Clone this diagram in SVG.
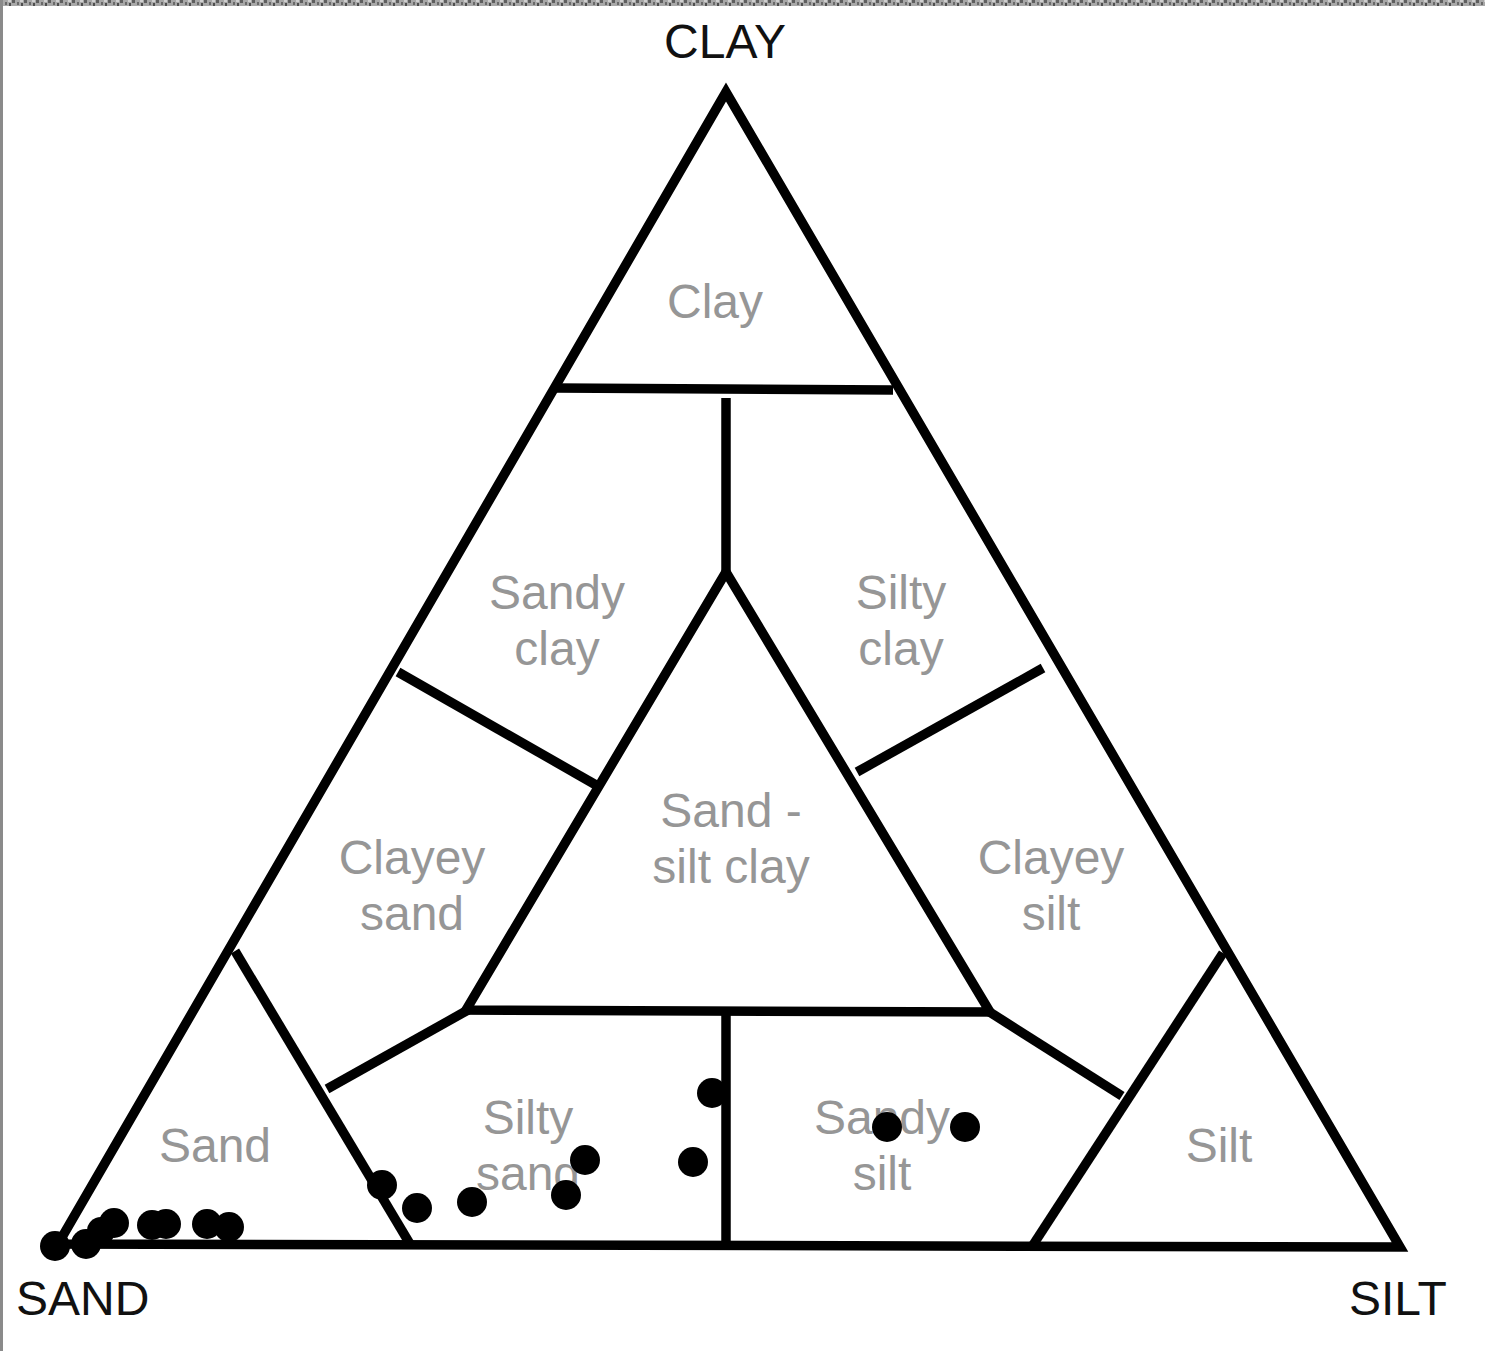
<svg xmlns="http://www.w3.org/2000/svg" width="1485" height="1351" viewBox="0 0 1485 1351">
  <defs>
    <style>
      .ln { stroke: #000; stroke-width: 9.5; fill: none; stroke-linecap: butt; stroke-linejoin: miter; }
      .lbl { font-family: "Liberation Sans", Arial, sans-serif; font-size: 48px; fill: #969696; text-anchor: middle; }
      .axis { font-family: "Liberation Sans", Arial, sans-serif; font-size: 48px; fill: #111; }
      .dot { fill: #000; }
    </style>
    <pattern id="noise" x="0" y="0" width="12" height="6" patternUnits="userSpaceOnUse">
      <rect width="12" height="6" fill="#a8a8a8"/>
      <rect x="0" y="0" width="3" height="3" fill="#5e5e5e"/>
      <rect x="5" y="2" width="2" height="3" fill="#6a6a6a"/>
      <rect x="8" y="0" width="3" height="2" fill="#d0d0d0"/>
      <rect x="9" y="3" width="2" height="3" fill="#4e4e4e"/>
    </pattern>
  </defs>
  <rect x="0" y="0" width="1485" height="1351" fill="#fff"/>
  <rect x="0" y="0" width="1485" height="6" fill="url(#noise)"/>
  <rect x="0" y="0" width="3" height="1351" fill="#8a8a8a"/>

  <g id="connectors">
    <polygon class="ln" points="726,92 58,1244 1400,1247"/>
    <line class="ln" x1="556" y1="388" x2="893" y2="390"/>
    <line class="ln" x1="726" y1="398" x2="726" y2="572"/>
    <polygon class="ln" points="726,572 466,1010 990,1012"/>
    <line class="ln" x1="398" y1="672" x2="596" y2="785"/>
    <line class="ln" x1="857" y1="772" x2="1043" y2="668"/>
    <line class="ln" x1="235" y1="951" x2="410" y2="1244"/>
    <line class="ln" x1="327" y1="1089" x2="468" y2="1010"/>
    <line class="ln" x1="988" y1="1011" x2="1122" y2="1096"/>
    <line class="ln" x1="1223" y1="953" x2="1033" y2="1245"/>
    <line class="ln" x1="726" y1="1014" x2="726" y2="1244"/>
  </g>

  <g id="axis-labels">
    <text id="clay-axis" class="axis" x="725" y="58" text-anchor="middle">CLAY</text>
    <text id="sand-axis" class="axis" x="16" y="1315">SAND</text>
    <text id="silt-axis" class="axis" x="1349" y="1315">SILT</text>
  </g>

  <g id="node-clay"><text class="lbl" x="715" y="318">Clay</text></g>
  <g id="node-sandy-clay"><text class="lbl" x="557" y="609">Sandy</text><text class="lbl" x="557" y="665">clay</text></g>
  <g id="node-silty-clay"><text class="lbl" x="901" y="609">Silty</text><text class="lbl" x="901" y="665">clay</text></g>
  <g id="node-sand-silt-clay"><text class="lbl" x="731" y="827">Sand -</text><text class="lbl" x="731" y="883">silt clay</text></g>
  <g id="node-clayey-sand"><text class="lbl" x="412" y="874">Clayey</text><text class="lbl" x="412" y="930">sand</text></g>
  <g id="node-clayey-silt"><text class="lbl" x="1051" y="874">Clayey</text><text class="lbl" x="1051" y="930">silt</text></g>
  <g id="node-sand"><text class="lbl" x="215" y="1162">Sand</text></g>
  <g id="node-silty-sand"><text class="lbl" x="528" y="1134">Silty</text><text class="lbl" x="528" y="1190">sand</text></g>
  <g id="node-sandy-silt"><text class="lbl" x="882" y="1134">Sandy</text><text class="lbl" x="882" y="1190">silt</text></g>
  <g id="node-silt"><text class="lbl" x="1219" y="1162">Silt</text></g>

  <g id="samples">
    <circle class="dot" cx="55" cy="1246" r="15"/>
    <circle class="dot" cx="86" cy="1244" r="15"/>
    <circle class="dot" cx="101" cy="1231" r="14"/>
    <circle class="dot" cx="114" cy="1223" r="15"/>
    <circle class="dot" cx="152" cy="1225" r="15"/>
    <circle class="dot" cx="166" cy="1224" r="15"/>
    <circle class="dot" cx="207" cy="1224" r="15"/>
    <circle class="dot" cx="229" cy="1227" r="15"/>
    <circle class="dot" cx="382" cy="1185" r="15"/>
    <circle class="dot" cx="417" cy="1208" r="15"/>
    <circle class="dot" cx="472" cy="1202" r="15"/>
    <circle class="dot" cx="585" cy="1160" r="15"/>
    <circle class="dot" cx="566" cy="1195" r="15"/>
    <circle class="dot" cx="693" cy="1162" r="15"/>
    <circle class="dot" cx="712" cy="1093" r="15"/>
    <circle class="dot" cx="887" cy="1127" r="15"/>
    <circle class="dot" cx="965" cy="1127" r="15"/>
  </g>
</svg>
